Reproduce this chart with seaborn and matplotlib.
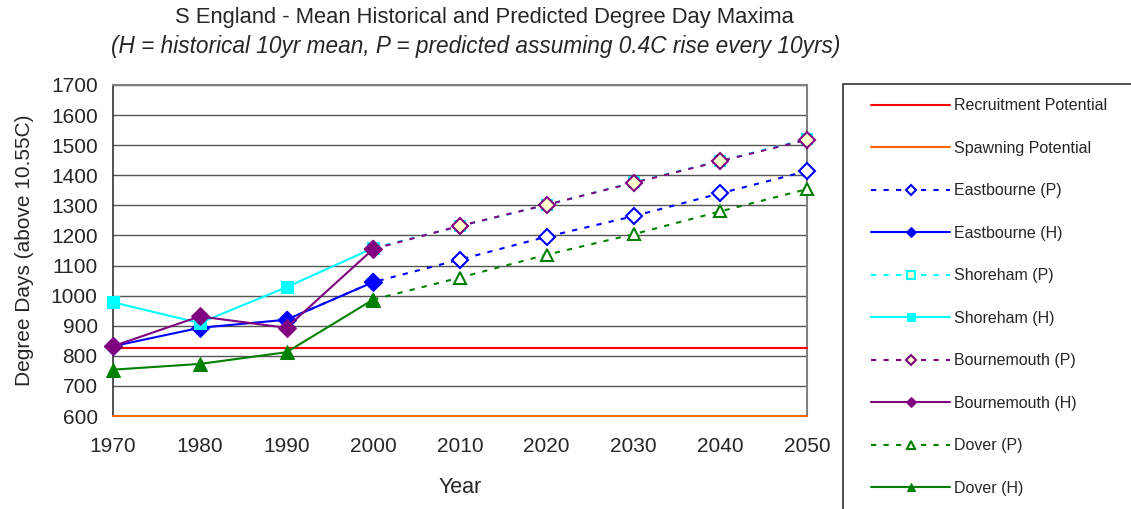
import matplotlib
matplotlib.use("Agg")
import matplotlib.pyplot as plt
from matplotlib.patches import Rectangle
import seaborn as sns
import pandas as pd

sns.set_style("white")
plt.rcParams['font.family'] = ['Liberation Sans', 'DejaVu Sans']

years_hist = [1970, 1980, 1990, 2000]
years_pred = [2000, 2010, 2020, 2030, 2040, 2050]
years_east_pred = [1990, 2000, 2010, 2020, 2030, 2040, 2050]
years_all = [1970, 2050]

recruitment = [825, 825]
spawning = [600, 600]
eastbourne_p = [920, 1045, 1120, 1196, 1264, 1340, 1414]
eastbourne_h = [832, 893, 920, 1045]
shoreham_p = [1158, 1231, 1302, 1376, 1448, 1520]
shoreham_h = [978, 909, 1028, 1158]
bournemouth_p = [1155, 1232, 1302, 1375, 1447, 1518]
bournemouth_h = [832, 931, 893, 1155]
dover_p = [987, 1060, 1136, 1204, 1280, 1354]
dover_h = [754, 773, 812, 987]

yticks = list(range(600, 1701, 100))
xticks = list(range(1970, 2051, 10))

W, H = 1131, 509
fig = plt.figure(figsize=(W / 100, H / 100), dpi=100)
ax = fig.add_axes([113 / W, 1 - 416 / H, (807 - 113) / W, (416 - 85) / H])

dash = (0, (2.5, 3.5))
series = [
    ("Recruitment Potential", years_all, recruitment, dict(color="#FF0000", lw=1.5)),
    ("Spawning Potential", years_all, spawning, dict(color="#FF6600", lw=1.5)),
    ("Eastbourne (P)", years_east_pred, eastbourne_p, dict(color="#0000FF", lw=1.5, linestyle=dash,
        marker="D", markersize=8.5, markerfacecolor="white", markeredgecolor="#0000FF", markeredgewidth=1.5)),
    ("Eastbourne (H)", years_hist, eastbourne_h, dict(color="#0000FF", lw=1.5,
        marker="D", markersize=9, markerfacecolor="#0000FF", markeredgecolor="#0000FF")),
    ("Shoreham (P)", years_pred, shoreham_p, dict(color="#00FFFF", lw=1.5, linestyle=dash,
        marker="s", markersize=7.5, markerfacecolor="#FFFFCC", markeredgecolor="#00FFFF", markeredgewidth=1.5)),
    ("Shoreham (H)", years_hist, shoreham_h, dict(color="#00FFFF", lw=1.5,
        marker="s", markersize=8, markerfacecolor="#00FFFF", markeredgecolor="#00FFFF")),
    ("Bournemouth (P)", years_pred, bournemouth_p, dict(color="#800080", lw=1.5, linestyle=dash,
        marker="D", markersize=8.5, markerfacecolor="#FFFFCC", markeredgecolor="#800080", markeredgewidth=1.5)),
    ("Bournemouth (H)", years_hist, bournemouth_h, dict(color="#800080", lw=1.5,
        marker="D", markersize=9, markerfacecolor="#800080", markeredgecolor="#800080")),
    ("Dover (P)", years_pred, dover_p, dict(color="#008000", lw=1.5, linestyle=dash,
        marker="^", markersize=9, markerfacecolor="white", markeredgecolor="#008000", markeredgewidth=1.5)),
    ("Dover (H)", years_hist, dover_h, dict(color="#008000", lw=1.5,
        marker="^", markersize=9.5, markerfacecolor="#008000", markeredgecolor="#008000")),
]

for i, (name, xs, ys, kw) in enumerate(series):
    df = pd.DataFrame({"Year": xs, "Value": ys})
    sns.lineplot(data=df, x="Year", y="Value", ax=ax, label=name, clip_on=False,
                 zorder=3 + i, legend=False, **kw)

ax.set_xlim(1970, 2050)
ax.set_ylim(600, 1700)
ax.set_xticks(xticks)
ax.set_yticks(yticks)
ax.tick_params(axis="y", labelsize=15, length=4, width=1, color="#333333", pad=7, direction="out")
ax.tick_params(axis="x", labelsize=15, length=4, width=1, color="#333333", pad=11, direction="out")
ax.yaxis.grid(True, color="#555555", lw=1)
ax.xaxis.grid(False)
ax.set_axisbelow(True)
for s in ["top", "right"]:
    ax.spines[s].set_color("#808080")
    ax.spines[s].set_linewidth(1.5)
for s in ["left", "bottom"]:
    ax.spines[s].set_color("#333333")
    ax.spines[s].set_linewidth(1.2)

ax.set_xlabel("Year", fontsize=15.5, labelpad=15)
ax.set_ylabel("Degree Days (above 10.55C)", fontsize=15, labelpad=12)

fig.text(484 / W, 1 - 17 / H, "S England - Mean Historical and Predicted Degree Day Maxima",
         ha="center", va="center", fontsize=15.8)
fig.text(476 / W, 1 - 46 / H, "(H = historical 10yr mean, P = predicted assuming 0.4C rise every 10yrs)",
         ha="center", va="center", fontsize=16.3, style="italic")

handles, labels = ax.get_legend_handles_labels()
leg = fig.legend(handles, labels, loc="upper left", bbox_to_anchor=(865 / W, 1 - 92 / H),
                 frameon=False, fontsize=11.5, labelspacing=1.72, handlelength=4.9,
                 handletextpad=0.3, numpoints=1, borderaxespad=0)
for h in leg.legend_handles:
    h.set_markersize(5.5)
fig.patches.append(Rectangle((843 / W, -0.1), 0.5, 1.1 - 84 / H, transform=fig.transFigure,
                             fill=False, edgecolor="#333333", lw=1.2))

fig.savefig("out.png", dpi=100)
